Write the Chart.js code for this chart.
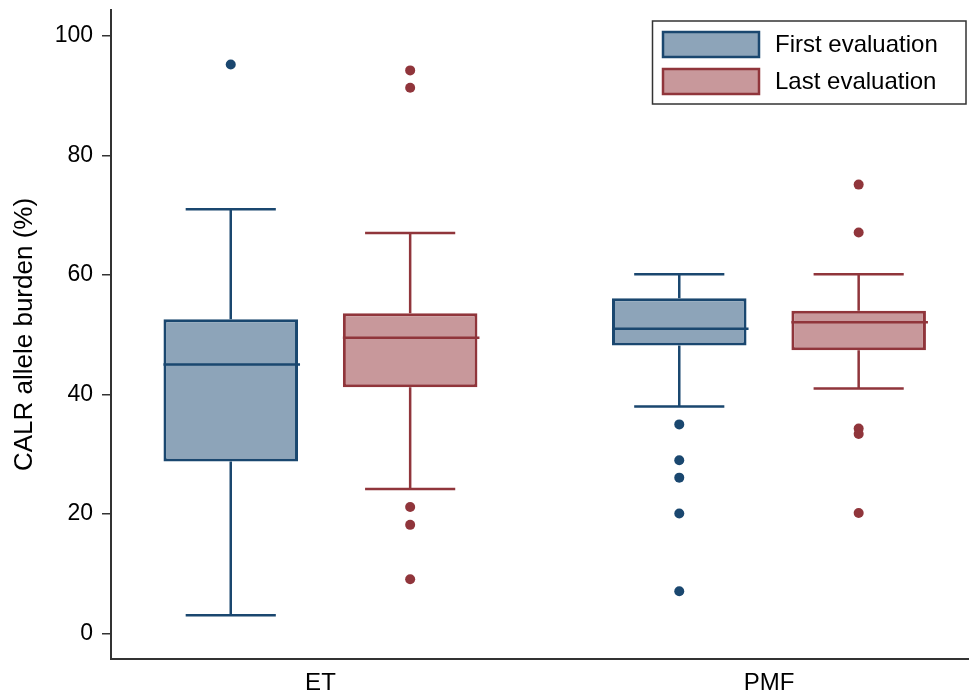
<!DOCTYPE html>
<html>
<head>
<meta charset="utf-8">
<title>CALR allele burden</title>
<script src="https://cdn.jsdelivr.net/npm/chart.js@4.4.1/dist/chart.umd.min.js"></script>
<style>
  html, body { margin: 0; padding: 0; background: #ffffff; overflow: hidden; }
  #wrap { width: 969px; height: 698px; }
</style>
</head>
<body>
<div id="wrap"><canvas id="chart" width="969" height="698"></canvas></div>
<script>
// Diagnosis groups on the x axis
const categories = ['ET', 'PMF'];
const yTicks = [0, 20, 40, 60, 80, 100];

// First evaluation: five-number summary per group
const firstLow    = [3.1, 38.0];
const firstQ1     = [28.8, 48.2];
const firstMedian = [45.0, 51.0];
const firstQ3     = [52.6, 56.1];
const firstHigh   = [71.0, 60.1];
const firstOutliers = [[95.2], [35.0, 29.0, 26.1, 20.1, 7.1]];

// Last evaluation: five-number summary per group
const lastLow    = [24.2, 41.0];
const lastQ1     = [41.2, 47.4];
const lastMedian = [49.5, 52.1];
const lastQ3     = [53.6, 54.0];
const lastHigh   = [67.0, 60.1];
const lastOutliers = [[94.2, 91.3, 21.2, 18.2, 9.1], [75.1, 67.1, 34.3, 33.4, 20.2]];

const FONT = "'Liberation Sans', Arial, Helvetica, sans-serif";
const BLUE_LINE = '#1A476F', BLUE_FILL = '#8DA4B9';
const RED_LINE = '#90353B', RED_FILL = '#C8989B';

function boxDataset(label, q1, q3, low, median, high, outliers, fill, line) {
  return {
    label,
    data: categories.map((c, i) => ({ x: i, y: [q1[i], q3[i]] })),
    low, median, high, outliers,
    backgroundColor: fill,
    borderColor: line,
    borderWidth: 3,
    borderSkipped: false,
    categoryPercentage: 0.8,
    barPercentage: 0.75
  };
}

// Whiskers go under the boxes; medians, outlier dots and the legend go on top.
const boxParts = {
  id: 'boxParts',
  beforeDatasetsDraw(chart) {
    const ctx = chart.ctx, y = chart.scales.y;
    chart.data.datasets.forEach((ds, d) => {
      const meta = chart.getDatasetMeta(d);
      meta.data.forEach((bar, i) => {
        const { x, width } = bar.getProps(['x', 'width'], true);
        const cap = width * 0.335;
        const pLow = y.getPixelForValue(ds.low[i]);
        const pHigh = y.getPixelForValue(ds.high[i]);
        const pQ1 = y.getPixelForValue(ds.data[i].y[0]);
        const pQ3 = y.getPixelForValue(ds.data[i].y[1]);
        ctx.save();
        ctx.strokeStyle = ds.borderColor;
        ctx.lineWidth = 2.5;
        ctx.beginPath();
        ctx.moveTo(x, pQ3); ctx.lineTo(x, pHigh);
        ctx.moveTo(x - cap, pHigh); ctx.lineTo(x + cap, pHigh);
        ctx.moveTo(x, pQ1); ctx.lineTo(x, pLow);
        ctx.moveTo(x - cap, pLow); ctx.lineTo(x + cap, pLow);
        ctx.stroke();
        ctx.restore();
      });
    });
  },
  afterDatasetsDraw(chart) {
    const ctx = chart.ctx, y = chart.scales.y;
    chart.data.datasets.forEach((ds, d) => {
      const meta = chart.getDatasetMeta(d);
      meta.data.forEach((bar, i) => {
        const { x, width } = bar.getProps(['x', 'width'], true);
        const pMed = y.getPixelForValue(ds.median[i]);
        ctx.save();
        ctx.strokeStyle = ds.borderColor;
        ctx.lineWidth = 2.5;
        ctx.beginPath();
        ctx.moveTo(x - width / 2, pMed); ctx.lineTo(x + width / 2 + 2, pMed);
        ctx.stroke();
        ctx.fillStyle = ds.borderColor;
        ds.outliers[i].forEach(v => {
          ctx.beginPath();
          ctx.arc(x, y.getPixelForValue(v), 5, 0, Math.PI * 2);
          ctx.fill();
        });
        ctx.restore();
      });
    });

    // Legend box in the upper right of the plot
    const lx = 652.5, ly = 21, lw = 313.5, lh = 83;
    ctx.save();
    ctx.fillStyle = '#ffffff';
    ctx.fillRect(lx, ly, lw, lh);
    ctx.strokeStyle = '#333333';
    ctx.lineWidth = 1.5;
    ctx.strokeRect(lx, ly, lw, lh);
    chart.data.datasets.forEach((ds, d) => {
      const sy = 32 + d * 37;
      ctx.fillStyle = ds.backgroundColor;
      ctx.fillRect(663, sy, 96, 25);
      ctx.strokeStyle = ds.borderColor;
      ctx.lineWidth = 2.5;
      ctx.strokeRect(663, sy, 96, 25);
      ctx.fillStyle = '#000000';
      ctx.font = '24px ' + FONT;
      ctx.textAlign = 'left';
      ctx.textBaseline = 'middle';
      ctx.fillText(ds.label, 775, sy + 13);
    });
    ctx.restore();
  }
};

new Chart(document.getElementById('chart'), {
  type: 'bar',
  data: {
    datasets: [
      boxDataset('First evaluation', firstQ1, firstQ3, firstLow, firstMedian, firstHigh, firstOutliers, BLUE_FILL, BLUE_LINE),
      boxDataset('Last evaluation', lastQ1, lastQ3, lastLow, lastMedian, lastHigh, lastOutliers, RED_FILL, RED_LINE)
    ]
  },
  options: {
    responsive: false,
    animation: false,
    devicePixelRatio: 1,
    layout: { padding: { top: 10, right: 0, bottom: 0, left: 0 } },
    plugins: {
      legend: { display: false },
      tooltip: { enabled: false }
    },
    scales: {
      x: {
        type: 'linear',
        offset: false,
        min: -0.467,
        max: 1.446,
        afterFit(scale) {
          scale.height = 39;
          scale.paddingLeft = 0;
          scale.paddingRight = 0;
        },
        afterBuildTicks(scale) { scale.ticks = categories.map((c, i) => ({ value: i })); },
        grid: { display: false, drawTicks: false },
        border: { display: true, color: '#333333', width: 2 },
        ticks: {
          callback: v => categories[v],
          color: '#000000',
          font: { family: FONT, size: 24 },
          padding: 10,
          maxRotation: 0
        }
      },
      y: {
        min: -4.23,
        max: 104.3,
        afterFit(scale) {
          scale.width = 111;
          scale.paddingTop = 0;
          scale.paddingBottom = 0;
        },
        afterBuildTicks(scale) { scale.ticks = yTicks.map(v => ({ value: v })); },
        grid: { drawOnChartArea: false, drawTicks: true, tickLength: 9, color: '#333333', lineWidth: 1.5 },
        border: { display: true, color: '#333333', width: 2 },
        ticks: {
          color: '#000000',
          font: { family: FONT, size: 23 },
          padding: 9
        },
        title: {
          display: true,
          text: 'CALR allele burden (%)',
          color: '#000000',
          font: { family: FONT, size: 26 },
          padding: { top: 9, bottom: 0 }
        }
      }
    }
  },
  plugins: [boxParts]
});
</script>
</body>
</html>
